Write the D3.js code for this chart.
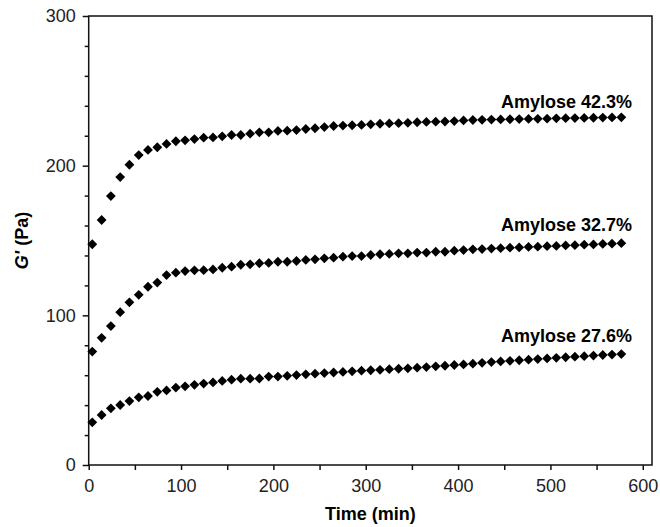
<!DOCTYPE html>
<html><head><meta charset="utf-8">
<script src="https://cdn.jsdelivr.net/npm/d3@7"></script>
<style>body{margin:0;background:#fff}svg{display:block}text{font-family:"Liberation Sans",Arial,sans-serif}</style>
</head><body>
<svg id="c" width="660" height="527"></svg>
<script>
const time = [3.9,14.0,24.0,34.1,44.1,54.2,64.2,74.3,84.3,94.4,104.4,114.5,124.5,134.6,144.6,154.7,164.7,174.8,184.8,194.9,204.9,215.0,225.0,235.1,245.1,255.2,265.2,275.3,285.3,295.4,305.4,315.5,325.5,335.6,345.6,355.7,365.7,375.8,385.8,395.9,405.9,416.0,426.0,436.1,446.1,456.2,466.2,476.3,486.3,496.4,506.4,516.5,526.5,536.6,546.6,556.7,566.7,576.8];
const amylose423 = [147.5,163.7,179.7,192.4,200.6,207.1,210.5,212.3,214.5,216.3,216.9,217.8,218.7,218.9,219.6,220.5,220.5,221.4,222.3,222.3,223.2,223.4,223.8,224.5,225.0,225.8,226.5,226.8,227.0,227.2,227.6,228.0,228.2,228.4,228.6,229.0,229.2,229.4,229.5,229.8,230.2,230.5,230.6,230.8,230.9,231.0,231.1,231.2,231.3,231.4,231.6,231.7,231.8,231.9,232.0,232.1,232.2,232.3];
const amylose327 = [75.8,85.0,92.8,102.1,108.7,113.7,119.1,121.9,126.9,128.5,129.6,130.1,130.2,130.7,131.8,132.5,133.8,134.1,134.8,135.0,135.8,135.8,136.3,137.0,137.4,138.1,138.5,139.2,139.6,139.6,140.3,140.8,141.0,141.4,141.4,141.9,141.9,142.5,142.5,143.2,143.6,144.1,144.3,144.6,144.9,145.2,145.4,145.7,145.9,146.2,146.4,146.7,146.9,147.2,147.4,147.7,147.9,148.2];
const amylose276 = [28.5,33.4,37.9,40.1,42.7,45.2,46.1,48.9,49.8,51.7,52.6,53.6,54.4,55.2,56.2,57.0,57.7,57.7,57.8,59.1,59.1,59.6,60.1,60.6,61.0,61.4,61.8,62.2,62.6,63.0,63.3,63.6,64.0,64.3,64.6,65.0,65.4,65.9,66.3,66.8,67.2,67.7,68.3,68.8,69.2,69.6,70.0,70.4,70.8,71.2,71.6,72.0,72.4,72.7,73.1,73.5,73.8,74.1];
const seriesNames = ["Amylose 42.3%","Amylose 32.7%","Amylose 27.6%"];
const xMajor = [0,100,200,300,400,500,600];
const xMinor = [50,150,250,350,450,550];
const yMajor = [0,100,200,300];
const yMinor = [20,40,60,80,120,140,160,180,220,240,260,280];

const svg = d3.select("#c");
const L=88.7, R=652, T=16, B=465;
const x = d3.scaleLinear().domain([0,610]).range([L,R]);
const y = d3.scaleLinear().domain([0,300]).range([B,T]);
const ink = "#111";

// frame
svg.append("rect").attr("x",L).attr("y",T).attr("width",R-L).attr("height",B-T)
  .attr("fill","none").attr("stroke",ink).attr("stroke-width",1.5);

// x axis
const gx = svg.append("g").attr("transform",`translate(0,${B})`);
gx.call(d3.axisBottom(x).tickValues(xMajor).tickSize(5).tickSizeOuter(0).tickPadding(9).tickFormat(d3.format("d")));
const gx2 = svg.append("g").attr("transform",`translate(0,${B})`);
gx2.call(d3.axisBottom(x).tickValues(xMinor).tickSize(5).tickSizeOuter(0).tickFormat(""));
// y axis
const gy = svg.append("g").attr("transform",`translate(${L},0)`);
gy.call(d3.axisLeft(y).tickValues(yMajor).tickSize(6).tickSizeOuter(0).tickPadding(7).tickFormat(d3.format("d")));
const gy2 = svg.append("g").attr("transform",`translate(${L},0)`);
gy2.call(d3.axisLeft(y).tickValues(yMinor).tickSize(4).tickSizeOuter(0).tickFormat(""));
svg.selectAll(".domain").remove();
svg.selectAll(".tick line").attr("stroke",ink).attr("stroke-width",1.5);
svg.selectAll(".tick text").attr("font-size",18).attr("fill","#222")
  .style("font-family",'"Liberation Sans",Arial,sans-serif');

// markers
const sets = [amylose423, amylose327, amylose276];
const h = 4.9;
const diamond = `M0,${-h}L${h},0L0,${h}L${-h},0Z`;
sets.forEach(vals=>{
  svg.append("g").selectAll("path").data(vals).join("path")
    .attr("d",diamond)
    .attr("transform",(d,i)=>`translate(${x(time[i])},${y(d)})`)
    .attr("fill","#000");
});

// series labels
const labelY = [108, 231, 342];
seriesNames.forEach((n,i)=>{
  svg.append("text").attr("x",632).attr("y",labelY[i]).attr("text-anchor","end")
    .attr("font-size",18).attr("font-weight","bold").attr("fill","#000").text(n);
});

// axis titles
svg.append("text").attr("x",(L+R)/2).attr("y",520).attr("text-anchor","middle")
  .attr("font-size",18).attr("font-weight","bold").attr("fill","#000").text("Time (min)");
const yt = svg.append("text").attr("transform",`translate(28,${(T+B)/2}) rotate(-90)`)
  .attr("text-anchor","middle").attr("font-size",18).attr("font-weight","bold").attr("fill","#000");
yt.append("tspan").attr("font-style","italic").text("G'");
yt.append("tspan").text(" (Pa)");
</script>
</body></html>
